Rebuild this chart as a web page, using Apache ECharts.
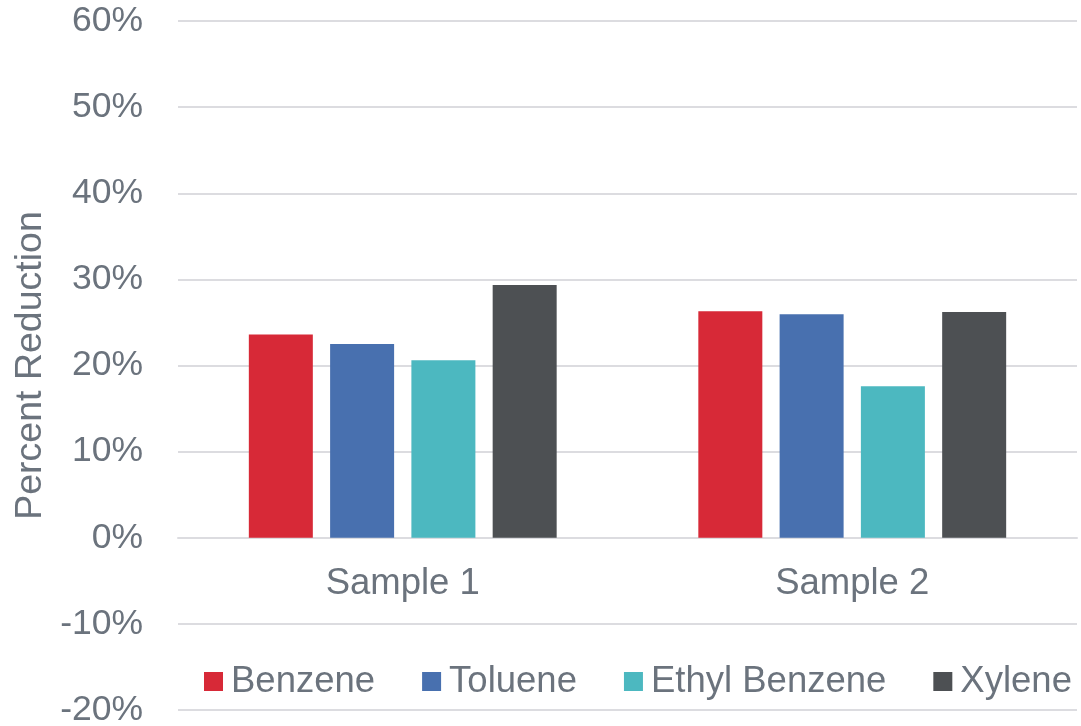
<!DOCTYPE html>
<html>
<head>
<meta charset="utf-8">
<script src="https://cdn.jsdelivr.net/npm/echarts@6/dist/echarts.min.js"></script>
<style>
  html, body { margin: 0; padding: 0; background: #ffffff; }
  #chart { width: 1081px; height: 726px; }
</style>
</head>
<body>
<div id="chart"></div>
<script>
// Percent reduction of each aromatic compound, by sample
const samples = ['Sample 1', 'Sample 2'];
const compounds = ['Benzene', 'Toluene', 'Ethyl Benzene', 'Xylene'];
const benzene = [23.6, 26.3];
const toluene = [22.5, 25.95];
const ethylBenzene = [20.6, 17.6];
const xylene = [29.35, 26.2];
const colors = ['#D72937', '#4870AF', '#4CB8C0', '#4D5053'];

const seriesValues = [benzene, toluene, ethylBenzene, xylene];
const textColor = '#6B737D';
const fontFamily = 'Liberation Sans, Arial, sans-serif';

const yMin = -20;
const yMax = 60;
const gridTop = 21;
const gridBottom = 16;
const chartHeight = 726;

// The category axis sits on the 0% line: shift it up from the bottom of the grid
const plotHeight = chartHeight - gridTop - gridBottom;
const zeroOffset = -plotHeight * (0 - yMin) / (yMax - yMin);

const chart = echarts.init(document.getElementById('chart'));
chart.setOption({
  animation: false,
  color: colors,
  grid: { left: 178, right: 4, top: gridTop, bottom: gridBottom, containLabel: false, outerBoundsMode: 'none' },
  legend: {
    left: 199,
    top: 658,
    icon: 'rect',
    itemWidth: 19,
    itemHeight: 19,
    itemGap: 47,
    textStyle: { color: textColor, fontSize: 36.5, fontFamily: fontFamily, padding: [0, 0, 0, 3] },
    data: compounds
  },
  xAxis: {
    type: 'category',
    data: samples,
    position: 'bottom',
    offset: zeroOffset,
    axisLine: { show: true, onZero: false, lineStyle: { color: '#DCDCE0', width: 2 } },
    axisTick: { show: false },
    axisLabel: { color: textColor, fontSize: 36.5, fontFamily: fontFamily, margin: 28 }
  },
  yAxis: {
    type: 'value',
    min: yMin,
    max: yMax,
    interval: 10,
    name: 'Percent Reduction',
    nameLocation: 'middle',
    nameGap: 126,
    nameTextStyle: { color: textColor, fontSize: 37.5, fontFamily: fontFamily },
    axisLine: { show: false },
    axisTick: { show: false },
    axisLabel: { color: textColor, fontSize: 35.5, fontFamily: fontFamily, margin: 35, formatter: '{value}%' },
    splitLine: { lineStyle: { color: '#DCDCE0', width: 2 } }
  },
  series: compounds.map((name, i) => ({
    name: name,
    type: 'bar',
    data: seriesValues[i],
    barWidth: 64,
    barGap: '27%',
    itemStyle: { color: colors[i] }
  }))
});
</script>
</body>
</html>
